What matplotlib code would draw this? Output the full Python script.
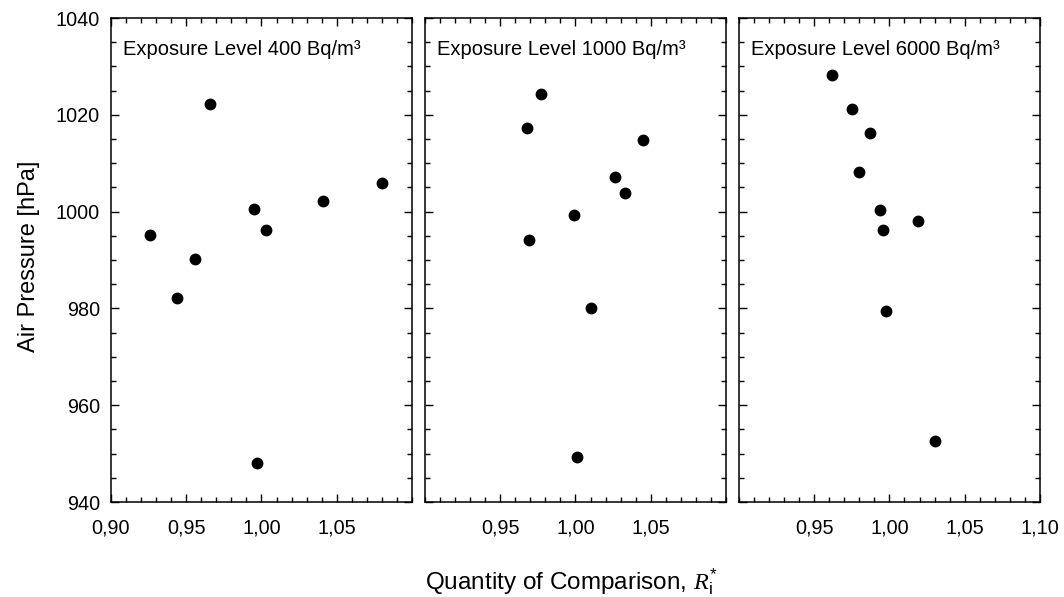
import matplotlib
matplotlib.use("Agg")
import matplotlib.pyplot as plt
from matplotlib.ticker import MultipleLocator, FixedLocator, FuncFormatter

plt.rcParams["font.family"] = ["Liberation Sans", "DejaVu Sans"]
plt.rcParams["mathtext.fontset"] = "custom"
plt.rcParams["mathtext.rm"] = "Liberation Sans"
plt.rcParams["mathtext.it"] = "Liberation Serif:italic"

LEVELS = ["400", "1000", "6000"]

r_400 = [0.926, 0.966, 0.956, 0.944, 0.995, 1.003, 1.041, 1.080, 0.997]
p_400 = [995.2, 1022.2, 990.2, 982.2, 1000.5, 996.2, 1002.2, 1006.0, 948.0]

r_1000 = [0.977, 0.968, 1.045, 1.026, 1.033, 0.999, 0.969, 1.010, 1.001]
p_1000 = [1024.2, 1017.2, 1014.9, 1007.2, 1003.8, 999.2, 994.2, 980.0, 949.3]

r_6000 = [0.962, 0.975, 0.987, 0.980, 0.994, 1.019, 0.996, 0.998, 1.030]
p_6000 = [1028.2, 1021.2, 1016.2, 1008.2, 1000.3, 998.1, 996.2, 979.5, 952.6]

R_VALUES = [r_400, r_1000, r_6000]
P_VALUES = [p_400, p_1000, p_6000]
X_TICKS = [[0.90, 0.95, 1.00, 1.05], [0.95, 1.00, 1.05], [0.95, 1.00, 1.05, 1.10]]
Y_TICKS = [940, 960, 980, 1000, 1020, 1040]


def comma_fmt(v, pos):
    return f"{v:.2f}".replace(".", ",")


fig, axes = plt.subplots(1, 3, figsize=(10.64, 5.97), dpi=100, sharey=True)
fig.subplots_adjust(left=0.1043, right=0.9774, top=0.9698, bottom=0.1591, wspace=0.043)

for i, ax in enumerate(axes):
    ax.plot(R_VALUES[i], P_VALUES[i], "o", color="black", ms=7.5, mec="black")
    ax.set_xlim(0.90, 1.10)
    ax.set_ylim(940, 1040)
    ax.xaxis.set_major_locator(FixedLocator(X_TICKS[i]))
    ax.xaxis.set_minor_locator(MultipleLocator(0.01))
    ax.xaxis.set_major_formatter(FuncFormatter(comma_fmt))
    ax.yaxis.set_major_locator(FixedLocator(Y_TICKS))
    ax.yaxis.set_minor_locator(MultipleLocator(5))
    ax.tick_params(which="both", direction="in", top=True, right=True,
                   labelsize=14.3, width=1.0)
    ax.tick_params(axis="x", pad=12)
    ax.tick_params(axis="y", pad=8)
    ax.tick_params(which="major", length=5.5)
    ax.tick_params(which="minor", length=3.5)
    if i > 0:
        ax.tick_params(labelleft=False)
    for sp in ax.spines.values():
        sp.set_linewidth(1.1)
    ax.text(0.039, 0.9236, f"Exposure Level {LEVELS[i]} Bq/m³",
            transform=ax.transAxes, ha="left", va="baseline", fontsize=14.5)

fig.text(0.027, 0.571, "Air Pressure [hPa]", rotation=90,
         ha="center", va="center", fontsize=17)
fig.text(0.3995, 0.0117, r"Quantity of Comparison, $R^{*}_{\mathrm{i}}$",
         ha="left", va="baseline", fontsize=17.5)

fig.savefig("out.png", dpi=100)
